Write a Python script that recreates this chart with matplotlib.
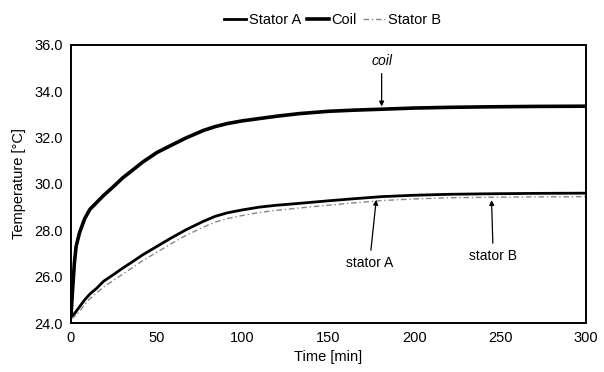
import matplotlib.pyplot as plt
import numpy as np

plt.rcParams['font.family'] = ['Liberation Sans', 'DejaVu Sans']

#%% data
time_min = [0, 1, 2, 3, 5, 8, 11, 15, 19, 25, 30, 36, 42, 50, 58, 67, 77, 84, 91, 100, 110, 120, 133, 150, 165, 181, 200, 220, 240, 270, 300]
coil     = [24.3, 25.5, 26.6, 27.3, 27.9, 28.5, 28.9, 29.2, 29.5, 29.9, 30.25, 30.6, 30.95, 31.35, 31.65, 31.98, 32.3, 32.47, 32.6, 32.72, 32.82, 32.92, 33.03, 33.13, 33.18, 33.22, 33.27, 33.3, 33.32, 33.34, 33.35]
stator_a = [24.25, 24.3, 24.4, 24.5, 24.7, 25.0, 25.25, 25.5, 25.8, 26.1, 26.36, 26.65, 26.95, 27.3, 27.65, 28.02, 28.38, 28.6, 28.75, 28.88, 29.0, 29.08, 29.16, 29.27, 29.36, 29.45, 29.51, 29.55, 29.57, 29.59, 29.6]
stator_b = [24.2, 24.22, 24.28, 24.35, 24.5, 24.8, 25.05, 25.3, 25.55, 25.85, 26.1, 26.4, 26.7, 27.05, 27.4, 27.78, 28.13, 28.35, 28.5, 28.64, 28.77, 28.86, 28.96, 29.08, 29.18, 29.28, 29.35, 29.4, 29.42, 29.44, 29.45]

xticks = [0, 50, 100, 150, 200, 250, 300]
yticks = [24, 26, 28, 30, 32, 34, 36]

#%% plot
fig = plt.figure(figsize=(6.04, 3.72), dpi=100)
ax = fig.add_axes([0.1175, 0.1317, 0.8525, 0.748])

ax.plot(time_min, stator_a, color='black', lw=2.0, label='Stator A')
ax.plot(time_min, coil, color='black', lw=2.6, label='Coil')
ax.plot(time_min, stator_b, color='#888888', lw=1.0, ls=(0, (4, 2, 1, 2)), label='Stator B')

ax.set_xlim(0, 300)
ax.set_ylim(24, 36)
ax.set_xticks(xticks)
ax.set_yticks(yticks)
ax.set_yticklabels([f"{v:.1f}" for v in yticks])
ax.tick_params(length=0, labelsize=10.5, pad=6)
for s in ax.spines.values():
    s.set_linewidth(1.4)
ax.set_xlabel("Time [min]", fontsize=10.5, labelpad=3)
ax.set_ylabel("Temperature [\u00b0C]", fontsize=10.5, labelpad=6)

arrow = dict(arrowstyle='-|>', color='black', lw=0.9, mutation_scale=7)
ax.annotate("coil", xy=(181, 33.22), xytext=(181, 35.3), ha='center', va='center',
            fontsize=10, style='italic', arrowprops=arrow)
ax.annotate("stator A", xy=(178, 29.43), xytext=(174, 26.6), ha='center', va='center',
            fontsize=10, arrowprops=arrow)
ax.annotate("stator B", xy=(245, 29.42), xytext=(246, 26.9), ha='center', va='center',
            fontsize=10, arrowprops=arrow)

fig.legend(loc='upper center', bbox_to_anchor=(0.55, 1.0), ncol=3, frameon=False,
           fontsize=10.5, handlelength=1.5, handletextpad=0.2, columnspacing=0.4)

fig.savefig("out.png", dpi=100)
